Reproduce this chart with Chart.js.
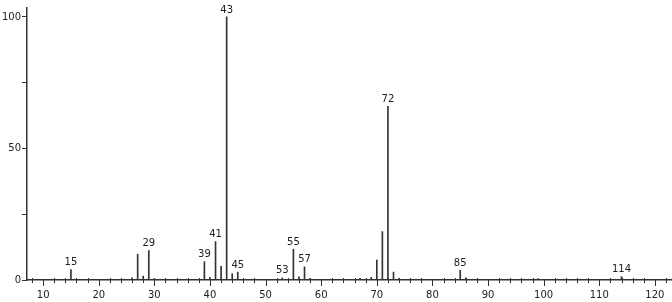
<!DOCTYPE html>
<html>
<head>
<meta charset="utf-8">
<script src="https://cdn.jsdelivr.net/npm/chart.js@4/dist/chart.umd.min.js"></script>
<style>
html,body{margin:0;padding:0;background:#fff;}
#wrap{width:672px;height:302px;position:relative;}
</style>
</head>
<body>
<div id="wrap"><canvas id="c" width="672" height="302"></canvas></div>
<script>
const mz = [15, 26, 27, 28, 29, 30, 39, 40, 41, 42, 43, 44, 45, 53, 55, 56, 57, 58, 67, 69, 70, 71, 72, 73, 74, 85, 86, 99, 114];
const intensity = [4.0, 0.8, 9.8, 1.5, 11.2, 0.6, 7.0, 1.0, 14.6, 5.2, 100, 2.4, 3.0, 0.8, 11.7, 1.2, 5.0, 0.6, 0.6, 1.0, 7.6, 18.4, 66, 3.0, 0.6, 3.7, 0.8, 0.5, 1.3];
const labeledPeaks = [15, 29, 39, 41, 43, 45, 53, 55, 57, 72, 85, 114];
const yTickLabels = [0, 50, 100];
const xTickLabels = [10, 20, 30, 40, 50, 60, 70, 80, 90, 100, 110, 120];

const FONT = "'DejaVu Sans', sans-serif";

const peakLabelPlugin = {
  id: 'peakLabels',
  afterDatasetsDraw(chart) {
    const ctx = chart.ctx;
    const xs = chart.scales.x, ys = chart.scales.y;
    ctx.save();
    ctx.font = "10px " + FONT;
    ctx.fillStyle = '#222';
    ctx.textAlign = 'center';
    ctx.textBaseline = 'bottom';
    labeledPeaks.forEach(m => {
      const i = mz.indexOf(m);
      if (i < 0) return;
      const px = xs.getPixelForValue(m);
      const py = ys.getPixelForValue(intensity[i]);
      ctx.fillText(String(m), px, py - 2);
    });
    ctx.restore();
  },
  afterDraw(chart) {
    const ctx = chart.ctx;
    const xs = chart.scales.x;
    const y0 = chart.chartArea.bottom;
    ctx.save();
    ctx.strokeStyle = '#333';
    ctx.lineWidth = 1;
    xs.ticks.forEach(t => {
      const v = t.value;
      const px = Math.round(xs.getPixelForValue(v)) + 0.5;
      ctx.beginPath();
      if (v % 10 === 0) {
        ctx.moveTo(px, y0);
        ctx.lineTo(px, y0 + 6);
      } else {
        ctx.moveTo(px, y0 - 2);
        ctx.lineTo(px, y0 + 3);
      }
      ctx.stroke();
    });
    ctx.restore();
  }
};

new Chart(document.getElementById('c'), {
  type: 'bar',
  data: {
    datasets: [{
      data: mz.map((m, i) => ({x: m, y: intensity[i]})),
      backgroundColor: '#333',
      borderWidth: 0,
      barThickness: 1
    }]
  },
  options: {
    responsive: false,
    animation: false,
    events: [],
    layout: {padding: {top: 8, right: 1, left: 0, bottom: 0}},
    plugins: {legend: {display: false}, tooltip: {enabled: false}},
    scales: {
      x: {
        type: 'linear',
        offset: false,
        min: 7.1,
        max: 122.9,
        afterFit: s => { s.height = 22; s.paddingRight = 0; s.paddingLeft = 0; },
        grid: {display: true, drawOnChartArea: false, drawTicks: false, tickLength: 0, offset: false},
        border: {display: true, color: '#333', width: 1.5},
        ticks: {
          stepSize: 2,
          autoSkip: false,
          maxRotation: 0,
          includeBounds: false,
          padding: 9,
          color: '#222',
          font: {family: FONT, size: 10},
          callback: v => xTickLabels.includes(v) ? String(v) : ''
        }
      },
      y: {
        min: 0,
        max: 103.4,
        afterFit: s => { s.width = 27; s.paddingTop = 0; s.paddingBottom = 0; },
        grid: {display: true, drawOnChartArea: false, drawTicks: true, tickLength: 5, color: '#333'},
        border: {display: true, color: '#333', width: 1.5},
        ticks: {
          stepSize: 25,
          includeBounds: false,
          padding: 1,
          color: '#222',
          font: {family: FONT, size: 10},
          callback: v => yTickLabels.includes(v) ? String(v) : ''
        }
      }
    }
  },
  plugins: [peakLabelPlugin]
});
</script>
</body>
</html>
